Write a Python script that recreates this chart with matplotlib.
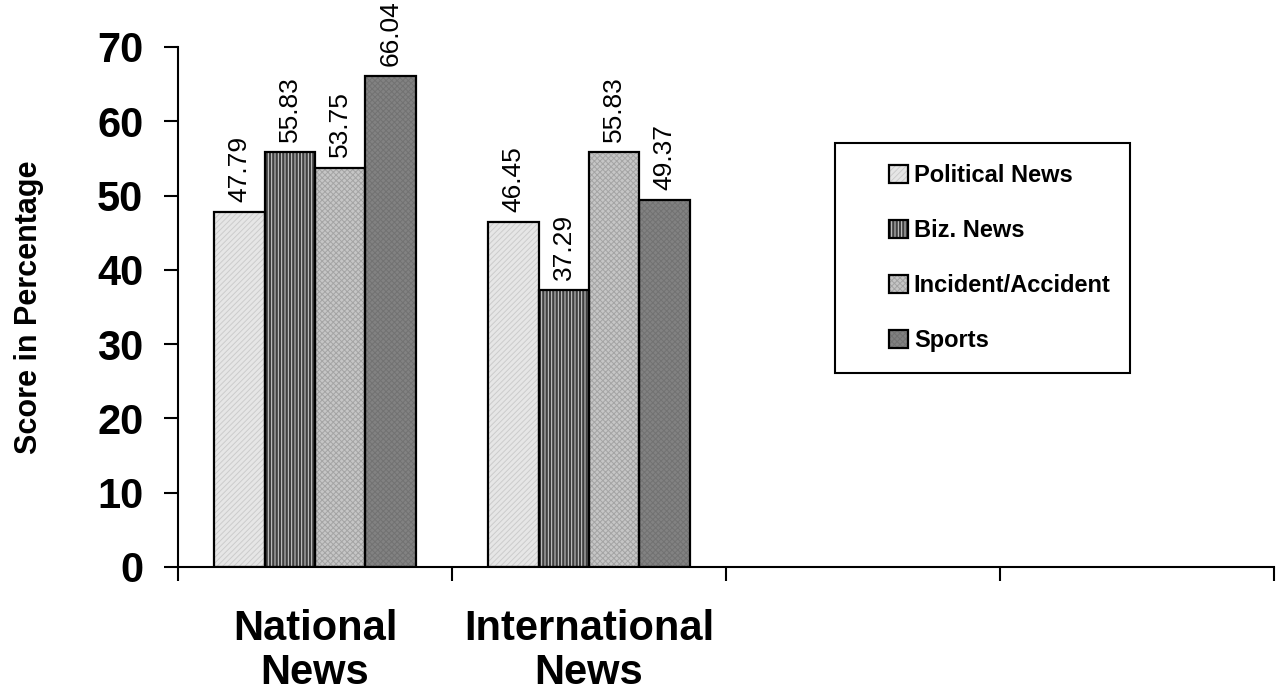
import matplotlib
matplotlib.use("Agg")
import matplotlib.pyplot as plt
from matplotlib.patches import Rectangle
import numpy as np

plt.rcParams['font.family'] = ['Liberation Sans', 'DejaVu Sans']
plt.rcParams['hatch.linewidth'] = 0.7

# 数据
categories = ['National\nNews', 'International\nNews']
series = ['Political News', 'Biz. News', 'Incident/Accident', 'Sports']
political = [47.79, 46.45]
biz = [55.83, 37.29]
incident = [53.75, 55.83]
sports = [66.04, 49.37]
yticks = [0, 10, 20, 30, 40, 50, 60, 70]

values = [political, biz, incident, sports]
# 底色 / 纹理颜色 / 纹理
faces = ['#e6e6e6', '#404040', '#c6c6c6', '#828282']
hatch_colors = ['#cccccc', '#d4d4d4', '#a4a4a4', '#727272']
hatches = ['//////', '|||||', 'xxxxxx', 'xxxxxx']

fig = plt.figure(figsize=(12.84, 6.97), dpi=100)
ax = fig.add_axes([178 / 1284, 1 - 567 / 697, 1096 / 1284, 520 / 697])

x = np.arange(len(categories)) + 0.5
w = 0.184
handles = []
for i, vals in enumerate(values):
    pos = x + (i - 1.5) * w
    # 先画带纹理的填充，再叠加黑色边框
    fill = ax.bar(pos, vals, w, color=faces[i], edgecolor=hatch_colors[i],
                  linewidth=0, hatch=hatches[i], zorder=2)
    edge = ax.bar(pos, vals, w, fill=False, edgecolor='black',
                  linewidth=1.6, zorder=3)
    handles.append((fill[0], edge[0]))
    for px, v in zip(pos, vals):
        ax.text(px, v + 1.4, f'{v:.2f}', rotation=90, ha='center',
                va='bottom', fontsize=19)

ax.set_xlim(0, 4)
ax.set_ylim(0, 70)
ax.set_yticks(yticks)
ax.set_yticklabels([str(t) for t in yticks], fontsize=30, fontweight='bold')
ax.tick_params(axis='y', length=10, width=1.5, pad=15)

ax.set_xticks(x)
ax.set_xticklabels(categories, fontsize=30, fontweight='bold', linespacing=1.15)
ax.set_xticks(np.arange(0, 5), minor=True)
ax.tick_params(axis='x', which='major', length=0, pad=30)
ax.tick_params(axis='x', which='minor', length=10, width=1.5)

ax.set_ylabel('Score in Percentage', fontsize=22, fontweight='bold', labelpad=38)

for s in ['top', 'right']:
    ax.spines[s].set_visible(False)
for s in ['left', 'bottom']:
    ax.spines[s].set_linewidth(1.5)

# 图例
ax.add_patch(Rectangle((0.5995, 0.3726), 0.2695, 0.4424, transform=ax.transAxes,
                       fill=False, edgecolor='black', linewidth=1.5,
                       clip_on=False, zorder=4))
ax.legend(handles, series, loc='center left', bbox_to_anchor=(0.638, 0.594),
          frameon=False, prop={'size': 17, 'weight': 'bold'},
          handlelength=0.8, handleheight=0.8, handletextpad=0.25,
          labelspacing=1.35, borderpad=0)

fig.savefig('out.png', dpi=100)
